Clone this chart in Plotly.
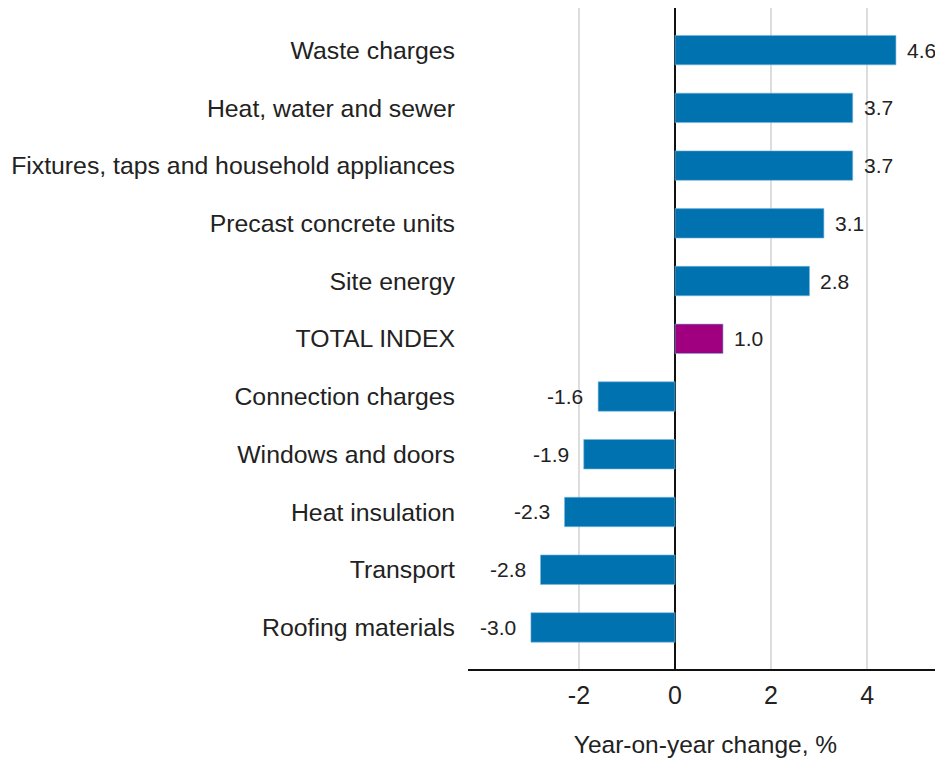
import plotly.graph_objects as go

categories = [
    "Waste charges",
    "Heat, water and sewer",
    "Fixtures, taps and household appliances",
    "Precast concrete units",
    "Site energy",
    "TOTAL INDEX",
    "Connection charges",
    "Windows and doors",
    "Heat insulation",
    "Transport",
    "Roofing materials",
]
values = [4.6, 3.7, 3.7, 3.1, 2.8, 1.0, -1.6, -1.9, -2.3, -2.8, -3.0]
value_labels = ["4.6", "3.7", "3.7", "3.1", "2.8", "1.0", "-1.6", "-1.9", "-2.3", "-2.8", "-3.0"]
tick_values = [-2, 0, 2, 4]
tick_labels = ["-2", "0", "2", "4"]
x_title = "Year-on-year change, %"

BLUE = "#0072B0"
PURPLE = "#A0007F"
colors = [PURPLE if c == "TOTAL INDEX" else BLUE for c in categories]

FONT = "Liberation Sans, Arial, sans-serif"
TXT = "#222222"

fig = go.Figure()
fig.add_trace(go.Bar(
    x=values, y=categories, orientation="h",
    marker=dict(color=colors, line=dict(width=1, color="rgba(120,180,220,0.6)")),
    hoverinfo="x+y",
))

for c, v, lab in zip(categories, values, value_labels):
    fig.add_annotation(
        x=v, y=c, text=lab, showarrow=False,
        xanchor="left" if v >= 0 else "right",
        xshift=9 if v >= 0 else -13,
        font=dict(family=FONT, size=21, color=TXT),
    )

n = len(categories)
fig.update_layout(
    width=935, height=750,
    margin=dict(l=460, r=0, t=0, b=89),
    paper_bgcolor="white", plot_bgcolor="white",
    bargap=0.49,
    showlegend=False,
    font=dict(family=FONT, size=24.8, color=TXT),
    xaxis=dict(
        range=[-4.31, 5.58],
        tickvals=tick_values, ticktext=tick_labels,
        showgrid=True, gridcolor="#dddddd", gridwidth=1.5,
        zeroline=True, zerolinecolor="#111111", zerolinewidth=1.5,
        showline=True, linecolor="#111111", linewidth=1.5,
        ticks="", ticklabelstandoff=3,
        tickfont=dict(family=FONT, size=25, color=TXT),
        title=dict(text=x_title, font=dict(family=FONT, size=24.5, color=TXT), standoff=29),
    ),
    yaxis=dict(
        categoryorder="array", categoryarray=categories,
        range=[n - 1 + 0.72, -0.73],
        showgrid=False, zeroline=False, showline=False,
        ticks="", ticklabelstandoff=12,
        tickfont=dict(family=FONT, size=24.8, color=TXT),
    ),
)

fig.write_html("out.html")
